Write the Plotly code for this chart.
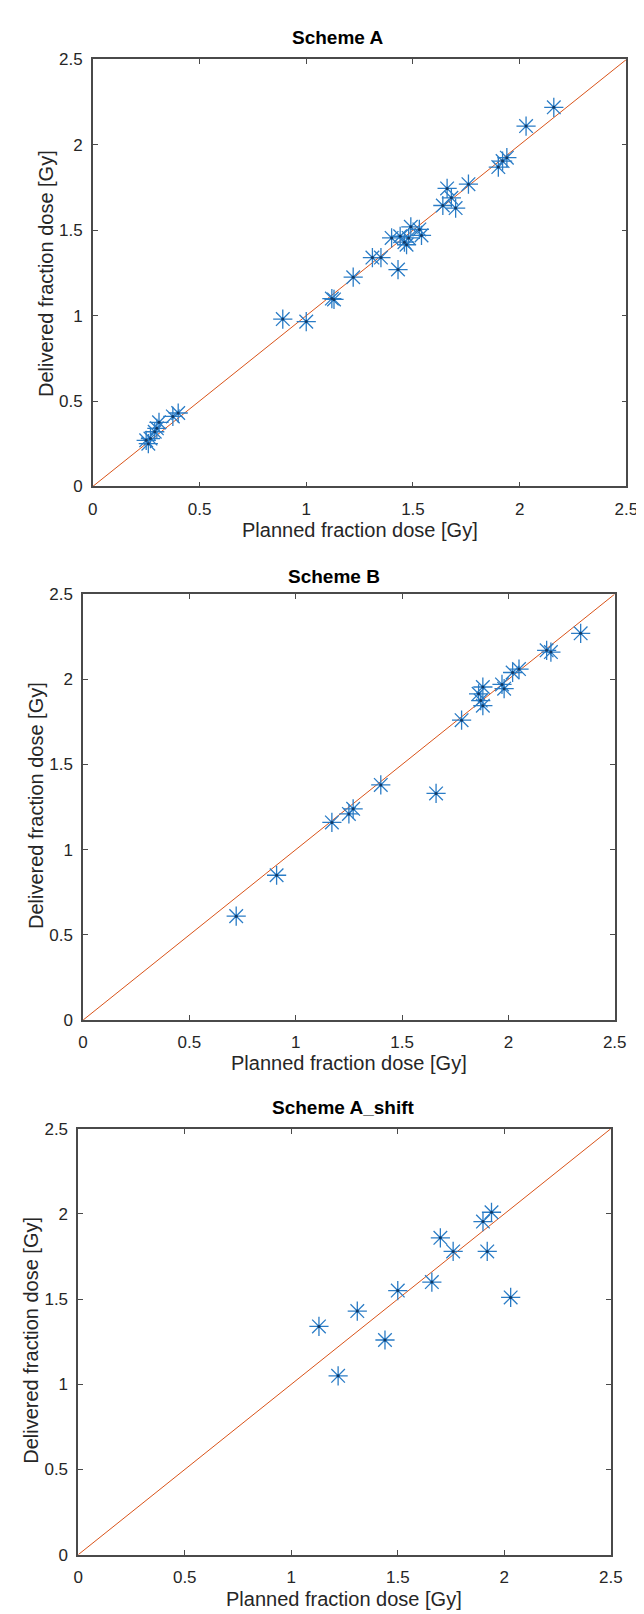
import plotly.graph_objects as go

# ---------------- data ----------------
titles = ["Scheme A", "Scheme B", "Scheme A_shift"]
x_label = "Planned fraction dose [Gy]"
y_label = "Delivered fraction dose [Gy]"
tick_vals = [0, 0.5, 1, 1.5, 2, 2.5]
tick_text = ["0", "0.5", "1", "1.5", "2", "2.5"]
identity_line = [0, 2.5]

a_planned = [0.25, 0.26, 0.27, 0.29, 0.30, 0.31, 0.375, 0.40, 0.89, 1.00, 1.12, 1.13,
             1.22, 1.31, 1.35, 1.43, 1.40, 1.44, 1.46, 1.47, 1.48, 1.49, 1.53, 1.54,
             1.64, 1.66, 1.68, 1.70, 1.76, 1.90, 1.92, 1.94, 2.03, 2.16]
a_delivered = [0.27, 0.25, 0.28, 0.32, 0.34, 0.375, 0.41, 0.43, 0.98, 0.965, 1.10, 1.095,
               1.225, 1.34, 1.34, 1.27, 1.455, 1.465, 1.43, 1.415, 1.455, 1.52, 1.505, 1.47,
               1.645, 1.745, 1.69, 1.63, 1.77, 1.87, 1.905, 1.925, 2.11, 2.22]

b_planned = [0.72, 0.91, 1.17, 1.25, 1.27, 1.40, 1.66, 1.78, 1.86, 1.88, 1.87, 1.88,
             1.97, 1.98, 2.02, 2.05, 2.18, 2.20, 2.34]
b_delivered = [0.61, 0.85, 1.16, 1.21, 1.24, 1.38, 1.33, 1.76, 1.915, 1.955, 1.875, 1.845,
               1.97, 1.945, 2.04, 2.06, 2.17, 2.16, 2.27]

c_planned = [1.13, 1.22, 1.31, 1.44, 1.50, 1.66, 1.70, 1.76, 1.90, 1.92, 1.94, 2.03]
c_delivered = [1.34, 1.05, 1.43, 1.26, 1.55, 1.60, 1.86, 1.78, 1.955, 1.78, 2.01, 1.51]

series = [(a_planned, a_delivered), (b_planned, b_delivered), (c_planned, c_delivered)]

# ---------------- layout (pixels) ----------------
W, H = 644, 1614
# plot boxes: left, right, top, bottom
boxes = [(82, 630, 43, 475), (72, 618, 584, 1015), (67, 614, 1125, 1556)]
title_pos = [(333, 20.5), (330, 566), (339, 1103)]
xtitle_pos = [(356, 519), (345, 1058), (340, 1601)]
ytitle_pos = [(34, 260), (23, 798), (19, 1339)]

FONT = "Liberation Sans, Arial, sans-serif"
BLUE = "#2a7cc6"
RED = "#D95319"
AXIS = "#4a4a4a"

fig = go.Figure()
layout = dict(width=W, height=H, margin=dict(l=0, r=0, t=0, b=0),
              paper_bgcolor="white", plot_bgcolor="white", showlegend=False,
              font=dict(family=FONT, color="#262626"))
annotations = []

for i, ((px, dy), (l, r, t, b)) in enumerate(zip(series, boxes)):
    n = "" if i == 0 else str(i + 1)
    xa, ya = "x" + n, "y" + n
    fig.add_trace(go.Scatter(x=identity_line, y=identity_line, mode="lines",
                             line=dict(color=RED, width=1), xaxis=xa, yaxis=ya,
                             hoverinfo="skip"))
    fig.add_trace(go.Scatter(x=px, y=dy, mode="markers", xaxis=xa, yaxis=ya,
                             marker=dict(symbol="asterisk-open", size=16, color=BLUE,
                                         line=dict(color=BLUE, width=1.3))))
    fig.add_trace(go.Scatter(x=px, y=dy, mode="markers", xaxis=xa, yaxis=ya,
                             marker=dict(symbol="circle", size=3, color="#123a66"),
                             hoverinfo="skip"))
    axcommon = dict(range=[0, 2.5], tickvals=tick_vals, ticktext=tick_text,
                    showgrid=False, zeroline=False, showline=True, linecolor=AXIS,
                    linewidth=1.5, mirror="ticks", ticks="inside", ticklen=5,
                    tickwidth=1, tickcolor=AXIS,
                    tickfont=dict(family=FONT, size=17, color="#262626"))
    layout["xaxis" + n] = dict(axcommon, domain=[l / W, r / W], anchor=ya,
                               ticklabelstandoff=6)
    layout["yaxis" + n] = dict(axcommon, domain=[1 - b / H, 1 - t / H], anchor=xa,
                               ticklabelstandoff=5)

    tx, ty = title_pos[i]
    annotations.append(dict(text="<b>" + titles[i] + "</b>", x=tx / W, y=1 - ty / H,
                            xref="paper", yref="paper", showarrow=False,
                            xanchor="center", yanchor="middle",
                            font=dict(family=FONT, size=19, color="black")))
    xx, xy = xtitle_pos[i]
    annotations.append(dict(text=x_label, x=xx / W, y=1 - xy / H, xref="paper",
                            yref="paper", showarrow=False, xanchor="center",
                            yanchor="middle",
                            font=dict(family=FONT, size=20, color="#262626")))
    yx, yy = ytitle_pos[i]
    annotations.append(dict(text=y_label, x=yx / W, y=1 - yy / H, xref="paper",
                            yref="paper", showarrow=False, xanchor="center",
                            yanchor="middle", textangle=-90,
                            font=dict(family=FONT, size=20, color="#262626")))

layout["annotations"] = annotations
fig.update_layout(**layout)
fig.write_html("out.html")
